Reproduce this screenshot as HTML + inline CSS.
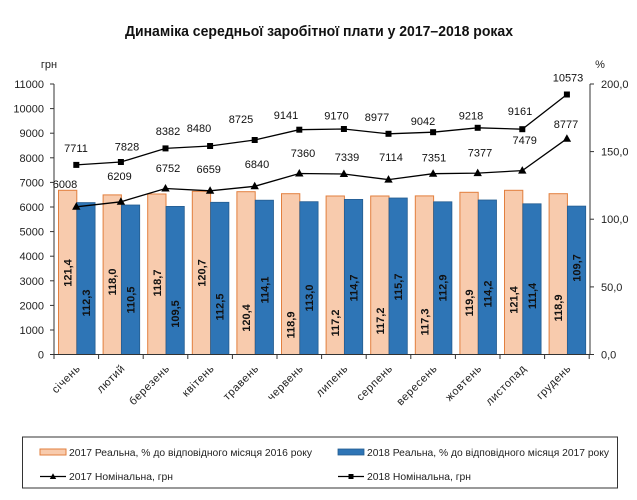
<!DOCTYPE html>
<html><head><meta charset="utf-8"><style>
html,body{margin:0;padding:0;background:#fff;}
svg{display:block;font-family:"Liberation Sans","DejaVu Sans",sans-serif;}
</style></head><body>
<svg width="637" height="500" viewBox="0 0 637 500" xmlns="http://www.w3.org/2000/svg">
<rect width="637" height="500" fill="#fff"/>
<text x="319" y="36" text-anchor="middle" font-size="15" font-weight="bold" fill="#111" textLength="388" lengthAdjust="spacingAndGlyphs">Динаміка середньої заробітної плати у 2017–2018 роках</text>

<!-- axis unit labels -->
<text x="49" y="68" text-anchor="middle" font-size="11" fill="#222">грн</text>
<text x="600" y="68" text-anchor="middle" font-size="11" fill="#222">%</text>

<!-- left axis -->
<g font-size="11" fill="#222" text-anchor="end">
<text x="44" y="88">11000</text>
<text x="44" y="112.6">10000</text>
<text x="44" y="137.2">9000</text>
<text x="44" y="161.8">8000</text>
<text x="44" y="186.4">7000</text>
<text x="44" y="211">6000</text>
<text x="44" y="235.6">5000</text>
<text x="44" y="260.2">4000</text>
<text x="44" y="284.8">3000</text>
<text x="44" y="309.4">2000</text>
<text x="44" y="334">1000</text>
<text x="44" y="358.5">0</text>
</g>
<g stroke="#333" stroke-width="1">
<line x1="54" y1="84" x2="54" y2="354.5"/>
<line x1="50" y1="84" x2="54" y2="84"/>
<line x1="50" y1="108.6" x2="54" y2="108.6"/>
<line x1="50" y1="133.2" x2="54" y2="133.2"/>
<line x1="50" y1="157.8" x2="54" y2="157.8"/>
<line x1="50" y1="182.4" x2="54" y2="182.4"/>
<line x1="50" y1="207" x2="54" y2="207"/>
<line x1="50" y1="231.6" x2="54" y2="231.6"/>
<line x1="50" y1="256.2" x2="54" y2="256.2"/>
<line x1="50" y1="280.8" x2="54" y2="280.8"/>
<line x1="50" y1="305.4" x2="54" y2="305.4"/>
<line x1="50" y1="330" x2="54" y2="330"/>
<line x1="50" y1="354.5" x2="54" y2="354.5"/>
<!-- right axis -->
<line x1="590" y1="84" x2="590" y2="354.5"/>
<line x1="590" y1="84" x2="594" y2="84"/>
<line x1="590" y1="151.6" x2="594" y2="151.6"/>
<line x1="590" y1="219.2" x2="594" y2="219.2"/>
<line x1="590" y1="286.9" x2="594" y2="286.9"/>
<line x1="590" y1="354.5" x2="594" y2="354.5"/>
</g>
<g font-size="11" fill="#222">
<text x="601" y="88">200,0</text>
<text x="601" y="155.6">150,0</text>
<text x="601" y="223.2">100,0</text>
<text x="601" y="290.9">50,0</text>
<text x="601" y="358.5">0,0</text>
</g>

<!-- bars -->
<g fill="#F8CBAD" stroke="#E27F3E" stroke-width="1">
<rect x="58.5" y="190.3" width="18.3" height="164.2"/>
<rect x="103.1" y="194.9" width="18.3" height="159.6"/>
<rect x="147.7" y="194.0" width="18.3" height="160.5"/>
<rect x="192.3" y="191.3" width="18.3" height="163.2"/>
<rect x="236.9" y="191.7" width="18.3" height="162.8"/>
<rect x="281.5" y="193.7" width="18.3" height="160.8"/>
<rect x="326.1" y="196.0" width="18.3" height="158.5"/>
<rect x="370.7" y="196.0" width="18.3" height="158.5"/>
<rect x="415.3" y="195.9" width="18.3" height="158.6"/>
<rect x="459.9" y="192.3" width="18.3" height="162.2"/>
<rect x="504.5" y="190.3" width="18.3" height="164.2"/>
<rect x="549.1" y="193.7" width="18.3" height="160.8"/>
</g>
<g fill="#2E75B6" stroke="#245C90" stroke-width="0.8">
<rect x="76.8" y="202.6" width="18.3" height="151.9"/>
<rect x="121.4" y="205.0" width="18.3" height="149.5"/>
<rect x="166.0" y="206.4" width="18.3" height="148.1"/>
<rect x="210.6" y="202.3" width="18.3" height="152.2"/>
<rect x="255.2" y="200.2" width="18.3" height="154.3"/>
<rect x="299.8" y="201.7" width="18.3" height="152.8"/>
<rect x="344.4" y="199.4" width="18.3" height="155.1"/>
<rect x="389.0" y="198.0" width="18.3" height="156.5"/>
<rect x="433.6" y="201.8" width="18.3" height="152.7"/>
<rect x="478.2" y="200.0" width="18.3" height="154.5"/>
<rect x="522.8" y="203.8" width="18.3" height="150.7"/>
<rect x="567.4" y="206.1" width="18.3" height="148.4"/>
</g>

<!-- bar labels -->
<g font-size="11" font-weight="bold" fill="#111" text-anchor="middle">
<text transform="translate(71.6,273) rotate(-90)">121,4</text>
<text transform="translate(116.2,282) rotate(-90)">118,0</text>
<text transform="translate(160.8,283) rotate(-90)">118,7</text>
<text transform="translate(205.4,273) rotate(-90)">120,7</text>
<text transform="translate(250,318) rotate(-90)">120,4</text>
<text transform="translate(294.6,325) rotate(-90)">118,9</text>
<text transform="translate(339.2,323) rotate(-90)">117,2</text>
<text transform="translate(383.8,321) rotate(-90)">117,2</text>
<text transform="translate(428.4,322) rotate(-90)">117,3</text>
<text transform="translate(473,303) rotate(-90)">119,9</text>
<text transform="translate(517.6,300) rotate(-90)">121,4</text>
<text transform="translate(562.2,308) rotate(-90)">118,9</text>

<text transform="translate(89.9,303) rotate(-90)">112,3</text>
<text transform="translate(134.5,300) rotate(-90)">110,5</text>
<text transform="translate(179.1,314) rotate(-90)">109,5</text>
<text transform="translate(223.7,307) rotate(-90)">112,5</text>
<text transform="translate(268.3,290) rotate(-90)">114,1</text>
<text transform="translate(312.9,298) rotate(-90)">113,0</text>
<text transform="translate(357.5,288) rotate(-90)">114,7</text>
<text transform="translate(402.1,287) rotate(-90)">115,7</text>
<text transform="translate(446.7,288) rotate(-90)">112,9</text>
<text transform="translate(491.3,294) rotate(-90)">114,2</text>
<text transform="translate(535.9,296) rotate(-90)">111,4</text>
<text transform="translate(580.5,268) rotate(-90)">109,7</text>
</g>

<!-- x axis -->
<g stroke="#333" stroke-width="1">
<line x1="54" y1="354.5" x2="590" y2="354.5"/>
<line x1="54" y1="354.5" x2="54" y2="359"/>
<line x1="98.6" y1="354.5" x2="98.6" y2="359"/>
<line x1="143.2" y1="354.5" x2="143.2" y2="359"/>
<line x1="187.8" y1="354.5" x2="187.8" y2="359"/>
<line x1="232.4" y1="354.5" x2="232.4" y2="359"/>
<line x1="277" y1="354.5" x2="277" y2="359"/>
<line x1="321.6" y1="354.5" x2="321.6" y2="359"/>
<line x1="366.2" y1="354.5" x2="366.2" y2="359"/>
<line x1="410.8" y1="354.5" x2="410.8" y2="359"/>
<line x1="455.4" y1="354.5" x2="455.4" y2="359"/>
<line x1="500" y1="354.5" x2="500" y2="359"/>
<line x1="544.6" y1="354.5" x2="544.6" y2="359"/>
<line x1="589.2" y1="354.5" x2="589.2" y2="359"/>
</g>
<g font-size="11" fill="#222" text-anchor="end" letter-spacing="0.6">
<text transform="translate(81,369) rotate(-45)">січень</text>
<text transform="translate(125.6,369) rotate(-45)">лютий</text>
<text transform="translate(170.2,369) rotate(-45)">березень</text>
<text transform="translate(214.8,369) rotate(-45)">квітень</text>
<text transform="translate(259.4,369) rotate(-45)">травень</text>
<text transform="translate(304,369) rotate(-45)">червень</text>
<text transform="translate(348.6,369) rotate(-45)">липень</text>
<text transform="translate(393.2,369) rotate(-45)">серпень</text>
<text transform="translate(437.8,369) rotate(-45)">вересень</text>
<text transform="translate(482.4,369) rotate(-45)">жовтень</text>
<text transform="translate(527,369) rotate(-45)">листопад</text>
<text transform="translate(571.6,369) rotate(-45)">грудень</text>
</g>

<!-- lines -->
<polyline fill="none" stroke="#000" stroke-width="1.3" points="76.3,164.9 120.9,162.0 165.5,148.4 210.1,146.0 254.7,140.0 299.3,129.7 343.9,129.0 388.5,133.8 433.1,132.2 477.7,127.8 522.3,129.2 566.9,94.5"/>
<polyline fill="none" stroke="#000" stroke-width="1.3" points="76.3,206.8 120.9,201.8 165.5,188.5 210.1,190.8 254.7,186.3 299.3,173.5 343.9,174.0 388.5,179.6 433.1,173.7 477.7,173.1 522.3,170.6 566.9,138.7"/>
<g fill="#000">
<rect x="73.3" y="161.9" width="6" height="6"/>
<rect x="117.9" y="159.0" width="6" height="6"/>
<rect x="162.5" y="145.4" width="6" height="6"/>
<rect x="207.1" y="143.0" width="6" height="6"/>
<rect x="251.7" y="137.0" width="6" height="6"/>
<rect x="296.3" y="126.7" width="6" height="6"/>
<rect x="340.9" y="126.0" width="6" height="6"/>
<rect x="385.5" y="130.8" width="6" height="6"/>
<rect x="430.1" y="129.2" width="6" height="6"/>
<rect x="474.7" y="124.8" width="6" height="6"/>
<rect x="519.3" y="126.2" width="6" height="6"/>
<rect x="563.9" y="91.5" width="6" height="6"/>
</g>
<g fill="#000">
<polygon points="76.3,202.3 80.5,209.8 72.1,209.8"/>
<polygon points="120.9,197.3 125.1,204.8 116.7,204.8"/>
<polygon points="165.5,184.0 169.7,191.5 161.3,191.5"/>
<polygon points="210.1,186.3 214.3,193.8 205.9,193.8"/>
<polygon points="254.7,181.8 258.9,189.3 250.5,189.3"/>
<polygon points="299.3,169.0 303.5,176.5 295.1,176.5"/>
<polygon points="343.9,169.5 348.1,177.0 339.7,177.0"/>
<polygon points="388.5,175.1 392.7,182.6 384.3,182.6"/>
<polygon points="433.1,169.2 437.3,176.7 428.9,176.7"/>
<polygon points="477.7,168.6 481.9,176.1 473.5,176.1"/>
<polygon points="522.3,166.1 526.5,173.6 518.1,173.6"/>
<polygon points="566.9,134.2 571.1,141.7 562.7,141.7"/>
</g>

<!-- line labels -->
<g font-size="11" fill="#111" text-anchor="middle">
<text x="76" y="152">7711</text>
<text x="127" y="150.5">7828</text>
<text x="168" y="135">8382</text>
<text x="199" y="132">8480</text>
<text x="241" y="123">8725</text>
<text x="286" y="119">9141</text>
<text x="336.5" y="119.5">9170</text>
<text x="377" y="121">8977</text>
<text x="423" y="125">9042</text>
<text x="471" y="119.5">9218</text>
<text x="520" y="115">9161</text>
<text x="568" y="81.5">10573</text>

<text x="65" y="188">6008</text>
<text x="119.5" y="180">6209</text>
<text x="168" y="172">6752</text>
<text x="208.7" y="173">6659</text>
<text x="257" y="168">6840</text>
<text x="303" y="157">7360</text>
<text x="347" y="161">7339</text>
<text x="391" y="161">7114</text>
<text x="434" y="161.5">7351</text>
<text x="480" y="156.5">7377</text>
<text x="524.7" y="144">7479</text>
<text x="566" y="128">8777</text>
</g>

<!-- legend -->
<rect x="22.5" y="437" width="595" height="51" fill="#fff" stroke="#333" stroke-width="1"/>
<rect x="40" y="449" width="26" height="6" fill="#F8CBAD" stroke="#E27F3E" stroke-width="1"/>
<text x="69" y="456" font-size="10.5" fill="#222" textLength="243" lengthAdjust="spacingAndGlyphs">2017 Реальна, % до відповідного місяця 2016 року</text>
<rect x="338" y="449" width="26" height="6" fill="#2E75B6" stroke="#245C90" stroke-width="0.8"/>
<text x="367" y="456" font-size="10.5" fill="#222" textLength="242" lengthAdjust="spacingAndGlyphs">2018 Реальна, % до відповідного місяця 2017 року</text>
<line x1="40" y1="476.5" x2="66" y2="476.5" stroke="#000" stroke-width="1.3"/>
<polygon points="53,473.3 56.2,479 49.8,479" fill="#000"/>
<text x="69" y="480" font-size="10.5" fill="#222" textLength="104" lengthAdjust="spacingAndGlyphs">2017 Номінальна, грн</text>
<line x1="338" y1="476.5" x2="364" y2="476.5" stroke="#000" stroke-width="1.3"/>
<rect x="348.5" y="474" width="5" height="5" fill="#000"/>
<text x="367" y="480" font-size="10.5" fill="#222" textLength="104" lengthAdjust="spacingAndGlyphs">2018 Номінальна, грн</text>
</svg>
</body></html>
